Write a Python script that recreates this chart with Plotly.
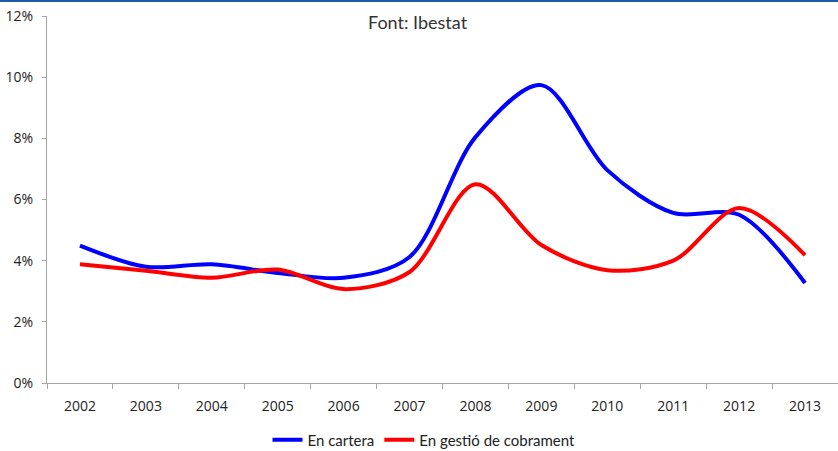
import plotly.graph_objects as go

years = ["2002", "2003", "2004", "2005", "2006", "2007", "2008", "2009", "2010", "2011", "2012", "2013"]
en_cartera = [4.49, 3.80, 3.88, 3.60, 3.44, 4.12, 8.04, 9.74, 6.96, 5.56, 5.50, 3.27]
en_gestio = [3.88, 3.67, 3.44, 3.71, 3.07, 3.63, 6.50, 4.51, 3.69, 4.00, 5.72, 4.18]
y_ticks = [0, 2, 4, 6, 8, 10, 12]
y_tick_labels = [f"{v}%" for v in y_ticks]

W, H = 838, 451
ML, MR, MT, MB = 47, 0, 16, 68
pw = W - ML - MR
ph = H - MT - MB

fig = go.Figure()
fig.add_trace(go.Scatter(x=years, y=en_cartera, name="En cartera", mode="lines",
                         line=dict(color="#0000FF", width=4, shape="spline", smoothing=0.9)))
fig.add_trace(go.Scatter(x=years, y=en_gestio, name="En gestió de cobrament", mode="lines",
                         line=dict(color="#FF0000", width=4, shape="spline", smoothing=0.9)))

axis_font = dict(family="Open Sans, DejaVu Sans, sans-serif", size=14, color="#222222")

fig.update_layout(
    width=W, height=H,
    margin=dict(l=ML, r=MR, t=MT, b=MB, autoexpand=False),
    paper_bgcolor="white", plot_bgcolor="white",
    showlegend=True,
    legend=dict(orientation="h", xref="paper", yref="paper",
                x=(424 - ML) / pw, xanchor="center", y=1 - (440 - MT) / ph, yanchor="middle",
                font=dict(family="Lato, Open Sans, sans-serif", size=15, color="#222222"),
                itemwidth=30, tracegroupgap=0, bgcolor="rgba(0,0,0,0)"),
    xaxis=dict(type="category", range=[-0.5, 11.5], showgrid=False, zeroline=False,
               showline=True, linecolor="#A6A6A6", linewidth=1,
               ticks="outside", tickson="boundaries", ticklen=5, tickcolor="#A6A6A6",
               tickfont=axis_font, ticklabelstandoff=10, fixedrange=True),
    yaxis=dict(range=[0, 12], tickvals=y_ticks, ticktext=y_tick_labels, showgrid=False,
               zeroline=False, showline=True, linecolor="#A6A6A6", linewidth=1,
               ticks="outside", ticklen=4, tickcolor="#A6A6A6", tickfont=axis_font,
               ticklabelstandoff=6, fixedrange=True),
    annotations=[dict(text="Font: Ibestat", xref="paper", yref="paper",
                      x=(418 - ML) / pw, y=1 - (22 - MT) / ph, xanchor="center", yanchor="middle",
                      showarrow=False,
                      font=dict(family="Lato, Open Sans, sans-serif", size=18, color="#333333"))],
    shapes=[dict(type="line", xref="paper", yref="paper",
                 x0=-ML / pw, x1=1 + 0.01, y0=1 + (MT - 1) / ph, y1=1 + (MT - 1) / ph,
                 line=dict(color="#1F5AA6", width=2))],
)

fig.write_html("out.html", config={"displayModeBar": False},
               post_script="document.body.style.margin='0';document.body.style.overflow='hidden';")
